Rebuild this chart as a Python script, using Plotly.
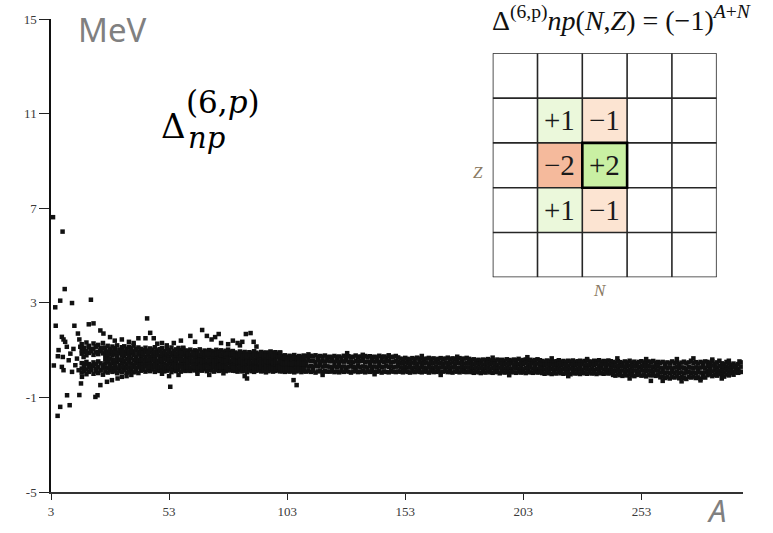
import plotly.graph_objects as go

# ---------------- data ----------------
# Dense band of points: mass numbers A = 16 .. 295, four rows of values (MeV)
A_band = list(range(16, 296))

band_top = (
    [1.25, 1.10, 1.32, 1.18, 1.05, 1.28, 1.15, 1.22, 1.08, 1.30]
    + [1.10, 1.18, 1.05, 1.15, 1.08, 1.20, 1.02, 1.12, 1.16, 1.06, 1.14, 1.09, 1.19, 1.04, 1.11]
    + [1.05, 1.00, 1.10, 0.98, 1.07, 1.02, 1.12, 0.99, 1.04, 1.08, 0.96, 1.06, 1.01, 1.11, 0.97, 1.03, 1.09, 1.00, 1.06, 0.98]
    + [0.97, 1.02, 0.93, 0.99, 0.95, 1.03, 0.91, 0.98, 0.94, 1.00, 0.96, 0.92, 1.01, 0.95, 0.99, 0.93, 0.97, 1.02, 0.94, 0.96]
    + [0.90, 0.86, 0.94, 0.88, 0.92, 0.85, 0.91, 0.87, 0.95, 0.89, 0.84, 0.92, 0.88, 0.90, 0.86, 0.93, 0.87, 0.91, 0.85, 0.89]
    + [0.74, 0.78, 0.71, 0.76, 0.73, 0.79, 0.70, 0.75, 0.72, 0.77, 0.74, 0.69, 0.76, 0.73, 0.78, 0.71, 0.75, 0.72, 0.77, 0.70]
    + [0.72, 0.69, 0.75, 0.70, 0.73, 0.68, 0.76, 0.71, 0.74, 0.69, 0.72, 0.77, 0.70, 0.73, 0.68, 0.75, 0.71, 0.74, 0.70, 0.72,
       0.69, 0.76, 0.71, 0.73, 0.68, 0.74, 0.70, 0.72, 0.75, 0.69]
    + [0.64, 0.61, 0.67, 0.63, 0.60, 0.66, 0.62, 0.68, 0.63, 0.65, 0.61, 0.64, 0.67, 0.62, 0.65, 0.60, 0.63, 0.66, 0.62, 0.64,
       0.68, 0.61, 0.65, 0.63, 0.60, 0.66, 0.62, 0.64, 0.67, 0.63]
    + [0.58, 0.61, 0.56, 0.59, 0.55, 0.60, 0.57, 0.62, 0.56, 0.58, 0.54, 0.60, 0.57, 0.59, 0.55, 0.61, 0.58, 0.56, 0.60, 0.57,
       0.63, 0.55, 0.58, 0.60, 0.56, 0.59, 0.54, 0.58, 0.61, 0.57]
    + [0.54, 0.51, 0.56, 0.52, 0.55, 0.50, 0.53, 0.57, 0.51, 0.54, 0.49, 0.55, 0.52, 0.56, 0.50, 0.53, 0.55, 0.51, 0.54, 0.58,
       0.52, 0.50, 0.55, 0.53, 0.57, 0.51, 0.54, 0.52, 0.56, 0.53]
    + [0.50, 0.47, 0.53, 0.49, 0.46, 0.52, 0.48, 0.55, 0.47, 0.51, 0.45, 0.50, 0.53, 0.48, 0.46, 0.52, 0.49, 0.54, 0.47, 0.50]
    + [0.46, 0.50, 0.43, 0.48, 0.44, 0.52, 0.45, 0.49, 0.42, 0.47, 0.51, 0.44, 0.48, 0.55, 0.45, 0.49, 0.43, 0.50, 0.46, 0.52]
    + [0.50, 0.45, 0.53, 0.42, 0.48, 0.55, 0.44, 0.40, 0.50, 0.46, 0.38, 0.43, 0.35, 0.41, 0.48]
)

band_upper = (
    [0.85, 0.92, 0.78, 0.88, 0.95, 0.80, 0.90, 0.83, 0.97, 0.86]
    + [0.80, 0.75, 0.84, 0.78, 0.82, 0.74, 0.86, 0.79, 0.76, 0.83, 0.77, 0.85, 0.80, 0.73, 0.81]
    + [0.75, 0.78, 0.72, 0.77, 0.70, 0.76, 0.73, 0.79, 0.74, 0.71, 0.78, 0.75, 0.72, 0.77, 0.74, 0.70, 0.76, 0.73, 0.78, 0.75]
    + [0.70, 0.67, 0.73, 0.69, 0.72, 0.66, 0.71, 0.68, 0.74, 0.70, 0.67, 0.72, 0.69, 0.73, 0.66, 0.71, 0.68, 0.70, 0.74, 0.69]
    + [0.65, 0.62, 0.68, 0.64, 0.61, 0.67, 0.63, 0.66, 0.60, 0.65, 0.68, 0.62, 0.64, 0.67, 0.61, 0.66, 0.63, 0.65, 0.69, 0.62]
    + [0.54, 0.51, 0.56, 0.53, 0.57, 0.50, 0.55, 0.52, 0.58, 0.54, 0.51, 0.56, 0.53, 0.55, 0.50, 0.57, 0.52, 0.54, 0.51, 0.56]
    + [0.52, 0.55, 0.50, 0.53, 0.49, 0.54, 0.51, 0.56, 0.50, 0.52, 0.48, 0.54, 0.51, 0.53, 0.55, 0.49, 0.52, 0.50, 0.54, 0.51,
       0.53, 0.49, 0.55, 0.50, 0.52, 0.54, 0.48, 0.51, 0.53, 0.50]
    + [0.46, 0.44, 0.48, 0.45, 0.43, 0.47, 0.45, 0.42, 0.48, 0.46, 0.44, 0.47, 0.43, 0.46, 0.45, 0.48, 0.44, 0.46, 0.42, 0.47,
       0.45, 0.43, 0.48, 0.44, 0.46, 0.45, 0.47, 0.43, 0.46, 0.44]
    + [0.42, 0.40, 0.44, 0.41, 0.43, 0.39, 0.42, 0.45, 0.40, 0.43, 0.41, 0.38, 0.44, 0.42, 0.40, 0.43, 0.41, 0.44, 0.39, 0.42,
       0.40, 0.43, 0.41, 0.45, 0.39, 0.42, 0.44, 0.40, 0.43, 0.41]
    + [0.38, 0.36, 0.40, 0.37, 0.39, 0.35, 0.38, 0.41, 0.36, 0.39, 0.37, 0.34, 0.40, 0.38, 0.36, 0.39, 0.37, 0.40, 0.35, 0.38,
       0.36, 0.39, 0.37, 0.41, 0.35, 0.38, 0.40, 0.36, 0.39, 0.37]
    + [0.32, 0.30, 0.34, 0.31, 0.33, 0.29, 0.32, 0.35, 0.30, 0.33, 0.31, 0.28, 0.34, 0.32, 0.30, 0.33, 0.31, 0.29, 0.34, 0.32]
    + [0.26, 0.23, 0.28, 0.25, 0.27, 0.22, 0.26, 0.29, 0.24, 0.27, 0.25, 0.21, 0.28, 0.26, 0.24, 0.27, 0.23, 0.26, 0.29, 0.25]
    + [0.32, 0.28, 0.35, 0.30, 0.26, 0.33, 0.29, 0.25, 0.31, 0.27, 0.22, 0.30, 0.24, 0.20, 0.30]
)

band_lower = (
    [0.45, 0.38, 0.50, 0.41, 0.35, 0.48, 0.40, 0.52, 0.44, 0.37]
    + [0.44, 0.48, 0.40, 0.46, 0.42, 0.50, 0.38, 0.45, 0.49, 0.41, 0.47, 0.43, 0.39, 0.46, 0.44]
    + [0.43, 0.40, 0.46, 0.41, 0.45, 0.39, 0.44, 0.42, 0.47, 0.40, 0.43, 0.38, 0.45, 0.41, 0.46, 0.42, 0.39, 0.44, 0.40, 0.43]
    + [0.42, 0.45, 0.39, 0.43, 0.40, 0.46, 0.38, 0.44, 0.41, 0.37, 0.43, 0.45, 0.40, 0.42, 0.39, 0.44, 0.41, 0.46, 0.38, 0.42]
    + [0.37, 0.40, 0.34, 0.38, 0.35, 0.41, 0.36, 0.33, 0.39, 0.37, 0.34, 0.40, 0.36, 0.38, 0.35, 0.39, 0.33, 0.37, 0.40, 0.36]
    + [0.32, 0.35, 0.29, 0.33, 0.30, 0.36, 0.31, 0.28, 0.34, 0.32, 0.35, 0.30, 0.33, 0.29, 0.34, 0.31, 0.36, 0.30, 0.33, 0.31]
    + [0.30, 0.27, 0.32, 0.29, 0.33, 0.28, 0.31, 0.26, 0.30, 0.34, 0.29, 0.27, 0.32, 0.28, 0.31, 0.30, 0.26, 0.33, 0.29, 0.31,
       0.27, 0.32, 0.28, 0.30, 0.34, 0.29, 0.31, 0.27, 0.30, 0.32]
    + [0.27, 0.25, 0.29, 0.26, 0.28, 0.24, 0.27, 0.30, 0.25, 0.28, 0.26, 0.23, 0.29, 0.27, 0.25, 0.28, 0.24, 0.27, 0.30, 0.26,
       0.28, 0.25, 0.27, 0.29, 0.24, 0.26, 0.28, 0.25, 0.27, 0.26]
    + [0.24, 0.22, 0.26, 0.23, 0.25, 0.21, 0.24, 0.27, 0.22, 0.25, 0.23, 0.20, 0.26, 0.24, 0.22, 0.25, 0.23, 0.21, 0.26, 0.24,
       0.22, 0.25, 0.20, 0.24, 0.23, 0.26, 0.22, 0.24, 0.21, 0.25]
    + [0.20, 0.18, 0.22, 0.19, 0.21, 0.17, 0.20, 0.23, 0.18, 0.21, 0.19, 0.16, 0.22, 0.20, 0.18, 0.21, 0.19, 0.17, 0.22, 0.20,
       0.18, 0.21, 0.16, 0.20, 0.19, 0.22, 0.18, 0.20, 0.17, 0.21]
    + [0.13, 0.11, 0.15, 0.12, 0.14, 0.10, 0.13, 0.16, 0.11, 0.14, 0.12, 0.09, 0.15, 0.13, 0.11, 0.14, 0.12, 0.10, 0.15, 0.13]
    + [0.05, 0.08, 0.03, 0.06, 0.02, 0.07, 0.04, 0.09, 0.03, 0.06, 0.01, 0.05, 0.08, 0.04, 0.06, 0.02, 0.07, 0.05, 0.03, 0.06]
    + [0.12, 0.16, 0.10, 0.14, 0.08, 0.13, 0.11, 0.06, 0.15, 0.10, 0.12, 0.07, 0.13, 0.09, 0.08]
)

band_bottom = (
    [0.05, 0.12, -0.02, 0.08, 0.15, 0.00, 0.10, 0.03, 0.14, -0.04]
    + [0.10, 0.05, 0.14, 0.08, 0.12, 0.02, 0.11, 0.07, 0.15, 0.04, 0.09, 0.13, 0.06, 0.10, 0.03]
    + [0.13, 0.17, 0.09, 0.15, 0.11, 0.18, 0.08, 0.14, 0.12, 0.16, 0.10, 0.13, 0.19, 0.07, 0.15, 0.11, 0.17, 0.09, 0.14, 0.12]
    + [0.15, 0.12, 0.18, 0.14, 0.10, 0.17, 0.13, 0.19, 0.11, 0.16, 0.14, 0.09, 0.17, 0.12, 0.15, 0.18, 0.11, 0.14, 0.16, 0.13]
    + [0.12, 0.09, 0.15, 0.10, 0.13, 0.07, 0.14, 0.11, 0.08, 0.13, 0.16, 0.10, 0.12, 0.06, 0.11, 0.14, 0.09, 0.12, 0.15, 0.10]
    + [0.11, 0.08, 0.13, 0.09, 0.12, 0.06, 0.10, 0.14, 0.07, 0.11, 0.09, 0.13, 0.08, 0.12, 0.05, 0.10, 0.13, 0.07, 0.11, 0.09]
    + [0.09, 0.12, 0.07, 0.10, 0.06, 0.11, 0.08, 0.13, 0.09, 0.05, 0.10, 0.12, 0.07, 0.09, 0.11, 0.06, 0.10, 0.08, 0.12, 0.07,
       0.09, 0.11, 0.05, 0.10, 0.08, 0.06, 0.11, 0.09, 0.07, 0.10]
    + [0.09, 0.06, 0.11, 0.08, 0.05, 0.10, 0.07, 0.12, 0.08, 0.06, 0.10, 0.09, 0.05, 0.11, 0.07, 0.08, 0.10, 0.06, 0.09, 0.12,
       0.07, 0.08, 0.05, 0.10, 0.09, 0.06, 0.11, 0.08, 0.07, 0.09]
    + [0.07, 0.04, 0.09, 0.06, 0.03, 0.08, 0.05, 0.10, 0.06, 0.04, 0.08, 0.07, 0.02, 0.09, 0.05, 0.07, 0.03, 0.08, 0.06, 0.04,
       0.09, 0.05, 0.07, 0.03, 0.08, 0.06, 0.04, 0.09, 0.05, 0.07]
    + [0.03, 0.00, 0.05, 0.02, -0.01, 0.04, 0.01, 0.06, 0.02, 0.00, 0.04, 0.03, -0.02, 0.05, 0.01, 0.03, -0.01, 0.04, 0.02, 0.00,
       0.05, 0.01, 0.03, -0.01, 0.04, 0.02, 0.00, 0.05, 0.01, 0.03]
    + [-0.05, -0.08, -0.03, -0.06, -0.09, -0.04, -0.07, -0.02, -0.06, -0.10, -0.05, -0.03, -0.08, -0.06, -0.11, -0.04, -0.07, -0.05, -0.09, -0.06]
    + [-0.15, -0.12, -0.18, -0.14, -0.20, -0.13, -0.16, -0.11, -0.19, -0.14, -0.17, -0.22, -0.13, -0.16, -0.12, -0.18, -0.15, -0.21, -0.13, -0.16]
    + [-0.06, -0.02, -0.10, -0.04, -0.08, 0.00, -0.05, -0.12, -0.03, -0.07, 0.02, -0.04, 0.06, 0.04, 0.08]
)

# Extra rows where the band is thickest (light and medium nuclei), A = 16 .. 110
A_wide = list(range(16, 111))
band_hi2 = (
    [1.00, 1.08, 0.95, 1.12, 0.98, 1.05, 1.15, 0.93, 1.02, 1.10]
    + [0.96, 0.92, 0.99, 0.94, 0.97, 0.90, 1.00, 0.95, 0.93, 0.98, 0.91, 0.96, 0.94, 0.99, 0.92]
    + [0.90, 0.87, 0.93, 0.88, 0.91, 0.86, 0.92, 0.89, 0.94, 0.87, 0.90, 0.85, 0.92, 0.88, 0.91, 0.86, 0.93, 0.89, 0.87, 0.91]
    + [0.84, 0.81, 0.87, 0.83, 0.85, 0.80, 0.86, 0.82, 0.88, 0.83, 0.85, 0.81, 0.84, 0.87, 0.80, 0.85, 0.82, 0.86, 0.83, 0.84]
    + [0.77, 0.75, 0.79, 0.76, 0.78, 0.74, 0.78, 0.76, 0.80, 0.75, 0.77, 0.79, 0.74, 0.78, 0.76, 0.79, 0.75, 0.77, 0.73, 0.78,
       0.64, 0.66, 0.62, 0.65, 0.63, 0.67, 0.62, 0.65, 0.63, 0.66]
)
band_lo2 = (
    [0.22, 0.30, 0.18, 0.27, 0.24, 0.33, 0.20, 0.28, 0.16, 0.26]
    + [0.27, 0.24, 0.30, 0.25, 0.28, 0.22, 0.29, 0.26, 0.31, 0.23, 0.27, 0.25, 0.29, 0.24, 0.28]
    + [0.28, 0.25, 0.31, 0.27, 0.29, 0.24, 0.30, 0.26, 0.28, 0.32, 0.25, 0.29, 0.27, 0.23, 0.30, 0.26, 0.28, 0.31, 0.25, 0.28]
    + [0.28, 0.26, 0.30, 0.27, 0.25, 0.29, 0.24, 0.28, 0.31, 0.26, 0.27, 0.30, 0.25, 0.28, 0.26, 0.29, 0.27, 0.24, 0.30, 0.27]
    + [0.24, 0.22, 0.26, 0.23, 0.25, 0.21, 0.24, 0.27, 0.22, 0.25, 0.23, 0.26, 0.21, 0.24, 0.22, 0.25, 0.23, 0.20, 0.26, 0.24,
       0.21, 0.19, 0.23, 0.20, 0.22, 0.18, 0.21, 0.23, 0.20, 0.22]
)

# Middle row, A = 26 .. 110
A_core = list(range(26, 111))
band_core = (
    [0.62, 0.58, 0.64, 0.60, 0.57, 0.63, 0.59, 0.61, 0.56, 0.62, 0.60, 0.65, 0.58, 0.61, 0.59]
    + [0.58, 0.60, 0.56, 0.59, 0.61, 0.57, 0.59, 0.55, 0.60, 0.58, 0.62, 0.57, 0.59, 0.56, 0.60, 0.58, 0.61, 0.57, 0.59, 0.58]
    + [0.55, 0.57, 0.53, 0.56, 0.54, 0.58, 0.55, 0.52, 0.56, 0.54, 0.57, 0.55, 0.53, 0.56, 0.58, 0.54, 0.55, 0.57, 0.53, 0.56]
    + [0.51, 0.49, 0.53, 0.50, 0.48, 0.52, 0.50, 0.47, 0.51, 0.49, 0.53, 0.50, 0.48, 0.51, 0.49, 0.52, 0.48, 0.50, 0.47, 0.51,
       0.45, 0.43, 0.46, 0.44, 0.42, 0.45, 0.43, 0.46, 0.44, 0.42]
)

# Scattered points (light nuclei and points off the band)
scatter_A = [
    3.85, 7.9, 8.8, 6.9, 4.8, 11.9, 19.9, 5.0, 12.9, 19.0, 21.0, 14.4, 15.0,
    5.9, 6.2, 7.6, 8.3, 9.0, 9.7, 8.0, 7.6, 8.3, 10.5, 11.2, 11.9, 13.3, 14.0, 15.4, 14.7, 16.1, 15.7, 16.8, 17.5,
    9.8, 15.0, 6.9, 10.9, 5.8, 21.8, 22.7, 4.2, 12.5,
    23.9, 25.2, 28.0, 30.0, 33.0, 36.0, 38.0, 40.0, 23.9, 26.7, 28.8, 31.2, 33.0, 35.0, 37.0,
    43.7, 45.0, 46.5, 48.0, 43.0, 50.0, 52.0, 55.0, 58.0, 53.5, 53.0, 50.0, 57.0,
    59.0, 62.0, 64.0, 67.0, 69.0, 71.0, 72.5, 74.0, 75.0, 78.0, 80.0, 82.0, 83.0, 84.0, 85.5, 87.5, 88.8, 90.0,
    65.0, 70.0, 76.0, 85.0, 86.0,
    95.9, 100.0, 105.7, 107.0, 112.0, 118.0, 128.4, 135.0, 140.0, 146.0, 160.0, 168.0, 175.0, 190.0, 197.0,
    204.7, 215.0, 222.0, 230.0, 242.8, 248.0, 255.0, 257.0, 262.0, 268.0, 270.0, 275.0, 278.0, 283.0, 287.0, 290.0, 294.5,
]
scatter_y = [
    6.62, 6.01, 3.58, 3.09, 2.81, 2.99, 3.13, 2.03, 2.03, 2.09, 2.13, 1.70, 1.45,
    0.74, 1.00, 1.56, 1.45, 1.35, 1.14, 0.71, 0.29, 0.15, 0.57, 0.85, 0.08, 0.36, 0.64, 1.14, 0.15, -0.13, -0.41, 0.71, 0.43,
    -0.91, -0.90, -1.40, -1.33, -1.78, -0.98, -0.91, 0.35, 1.05,
    1.83, 1.70, 1.55, 1.40, 1.45, 1.35, 1.30, 1.50, -0.48, -0.34, -0.27, -0.20, -0.13, -0.10, -0.05,
    2.34, 1.73, 1.50, 1.27, 1.50, 1.30, 1.20, 1.30, 1.40, -0.55, -0.10, 0.00, -0.05,
    1.10, 1.60, 1.35, 1.85, 1.60, 1.45, 1.55, 1.68, 1.30, 1.25, 1.40, 1.30, 1.20, 1.35, 1.68, 1.72, 1.35, 1.15,
    0.00, -0.05, 0.02, -0.10, -0.20,
    0.93, 0.90, -0.27, -0.48, 0.82, -0.05, 0.87, 0.80, -0.02, 0.78, 0.75, -0.05, 0.72, 0.68, -0.06,
    0.70, 0.65, -0.10, 0.62, 0.65, -0.20, 0.62, -0.30, -0.30, 0.62, -0.32, 0.65, -0.28, 0.60, -0.20, 0.55, 0.52,
]

x_ticks = [3, 53, 103, 153, 203, 253]
y_ticks = [-5, -1, 3, 7, 11, 15]

# Inset: coefficients of the 5x5 (N, Z) stencil
cell_values = [
    [0, 0, 0, 0, 0],
    [0, 1, -1, 0, 0],
    [0, -2, 2, 0, 0],
    [0, 1, -1, 0, 0],
    [0, 0, 0, 0, 0],
]
cell_text = {1: "+1", -1: "\u22121", 2: "+2", -2: "\u22122"}

# ---------------- figure ----------------
xs = A_band * 4 + A_wide * 2 + A_core + scatter_A
ys = band_top + band_upper + band_lower + band_bottom + band_hi2 + band_lo2 + band_core + scatter_y

fig = go.Figure()
fig.add_trace(go.Scatter(
    x=xs, y=ys, mode="markers",
    marker=dict(symbol="square", size=4.5, color="#111111", line=dict(width=0)),
    cliponaxis=False, hoverinfo="skip", showlegend=False,
))

n = len(cell_values)
centers = [i + 0.5 for i in range(n)]
fig.add_trace(go.Heatmap(
    z=cell_values, x=centers, y=centers, xaxis="x2", yaxis="y2",
    zmin=-2, zmax=2, showscale=False, hoverinfo="skip",
    colorscale=[
        [0.0, "#F5BA9C"], [0.125, "#F5BA9C"],
        [0.125, "#FCE4D2"], [0.375, "#FCE4D2"],
        [0.375, "#FFFFFF"], [0.625, "#FFFFFF"],
        [0.625, "#EBF8DB"], [0.875, "#EBF8DB"],
        [0.875, "#C9F0A3"], [1.0, "#C9F0A3"],
    ],
))

# inset placement (paper fractions)
dom_x = [0.6383, 0.962]
dom_y = [0.4539, 0.9275]


def inset_x(u):
    return dom_x[0] + u / n * (dom_x[1] - dom_x[0])


def inset_y(v):
    return dom_y[1] - v / n * (dom_y[1] - dom_y[0])


shapes = []
for i in range(n + 1):
    shapes.append(dict(type="line", xref="x2", yref="y2", x0=i, x1=i, y0=0, y1=n,
                       line=dict(color="#262626", width=1.6)))
    shapes.append(dict(type="line", xref="x2", yref="y2", x0=0, x1=n, y0=i, y1=i,
                       line=dict(color="#262626", width=1.6)))
shapes.append(dict(type="rect", xref="x2", yref="y2", x0=2, x1=3, y0=2, y1=3,
                   line=dict(color="#000000", width=2.6)))

annotations = []
for r, row in enumerate(cell_values):
    for c, v in enumerate(row):
        if v != 0:
            annotations.append(dict(
                xref="x2", yref="y2", x=c + 0.5, y=r + 0.5, text=cell_text[v],
                showarrow=False, font=dict(family="Liberation Serif", size=29, color="#1a1a1a"),
            ))

serif = "Liberation Serif"
inset_col = "#8a7a62"
annotations += [
    dict(xref="paper", yref="paper", x=inset_x(-0.33), y=inset_y(2.4), text="<i>Z</i>", showarrow=False,
         font=dict(family=serif, size=17, color=inset_col)),
    dict(xref="paper", yref="paper", x=inset_x(2.6), y=inset_y(5.3), text="<i>N</i>", showarrow=False,
         font=dict(family=serif, size=17, color=inset_col)),
    dict(xref="paper", yref="paper", x=inset_x(-0.05), y=inset_y(-0.35), xanchor="left", yanchor="bottom",
         text="\u0394<sup>(6,p)</sup><i>np</i>(<i>N</i>,<i>Z</i>) = (\u22121)<sup><i>A</i>+<i>N</i></sup>",
         showarrow=False, font=dict(family=serif, size=28, color="#111111")),
    # main labels
    dict(xref="paper", yref="paper", x=0.036, y=0.977, xanchor="left", yanchor="middle",
         text="MeV", showarrow=False, font=dict(family="Noto Sans", size=33, color="#808080")),
    dict(xref="paper", yref="paper", x=0.962, y=-0.0867, xanchor="center", yanchor="bottom",
         text="<i>A</i>", showarrow=False, font=dict(family="Noto Sans", size=31, color="#808080")),
    dict(xref="paper", yref="paper", x=0.156, y=0.774, xanchor="left", yanchor="middle",
         text="\u0394", showarrow=False, font=dict(family="DejaVu Serif", size=34, color="#000000")),
    dict(xref="paper", yref="paper", x=0.192, y=0.824, xanchor="left", yanchor="middle",
         text="(6,<i>p</i>)", showarrow=False, font=dict(family="DejaVu Serif", size=31, color="#000000")),
    dict(xref="paper", yref="paper", x=0.195, y=0.748, xanchor="left", yanchor="middle",
         text="<i>np</i>", showarrow=False, font=dict(family="DejaVu Serif", size=29, color="#000000")),
]

tickfont = dict(family="Liberation Serif, Times New Roman, serif", size=13, color="#3a3a3a")
fig.update_layout(
    width=773, height=533,
    margin=dict(l=51, r=30, t=19, b=41),
    paper_bgcolor="white", plot_bgcolor="white",
    showlegend=False,
    xaxis=dict(range=[3, 296], tickvals=x_ticks, ticktext=[str(v) for v in x_ticks],
               ticks="outside", ticklen=6, tickwidth=1.2, tickcolor="#222222",
               showline=True, linecolor="#333333", linewidth=2,
               showgrid=False, zeroline=False, tickfont=tickfont, fixedrange=True),
    yaxis=dict(range=[-5, 15], tickvals=y_ticks, ticktext=[str(v) for v in y_ticks],
               ticks="outside", ticklen=10, tickwidth=1.2, tickcolor="#222222",
               showline=True, linecolor="#111111", linewidth=1.5,
               showgrid=False, zeroline=False, tickfont=tickfont, fixedrange=True),
    xaxis2=dict(domain=dom_x, range=[0, 5], anchor="y2", visible=False, fixedrange=True),
    yaxis2=dict(domain=dom_y, range=[5, 0], anchor="x2", visible=False, fixedrange=True),
    shapes=shapes,
    annotations=annotations,
)

fig.write_html("out.html")
